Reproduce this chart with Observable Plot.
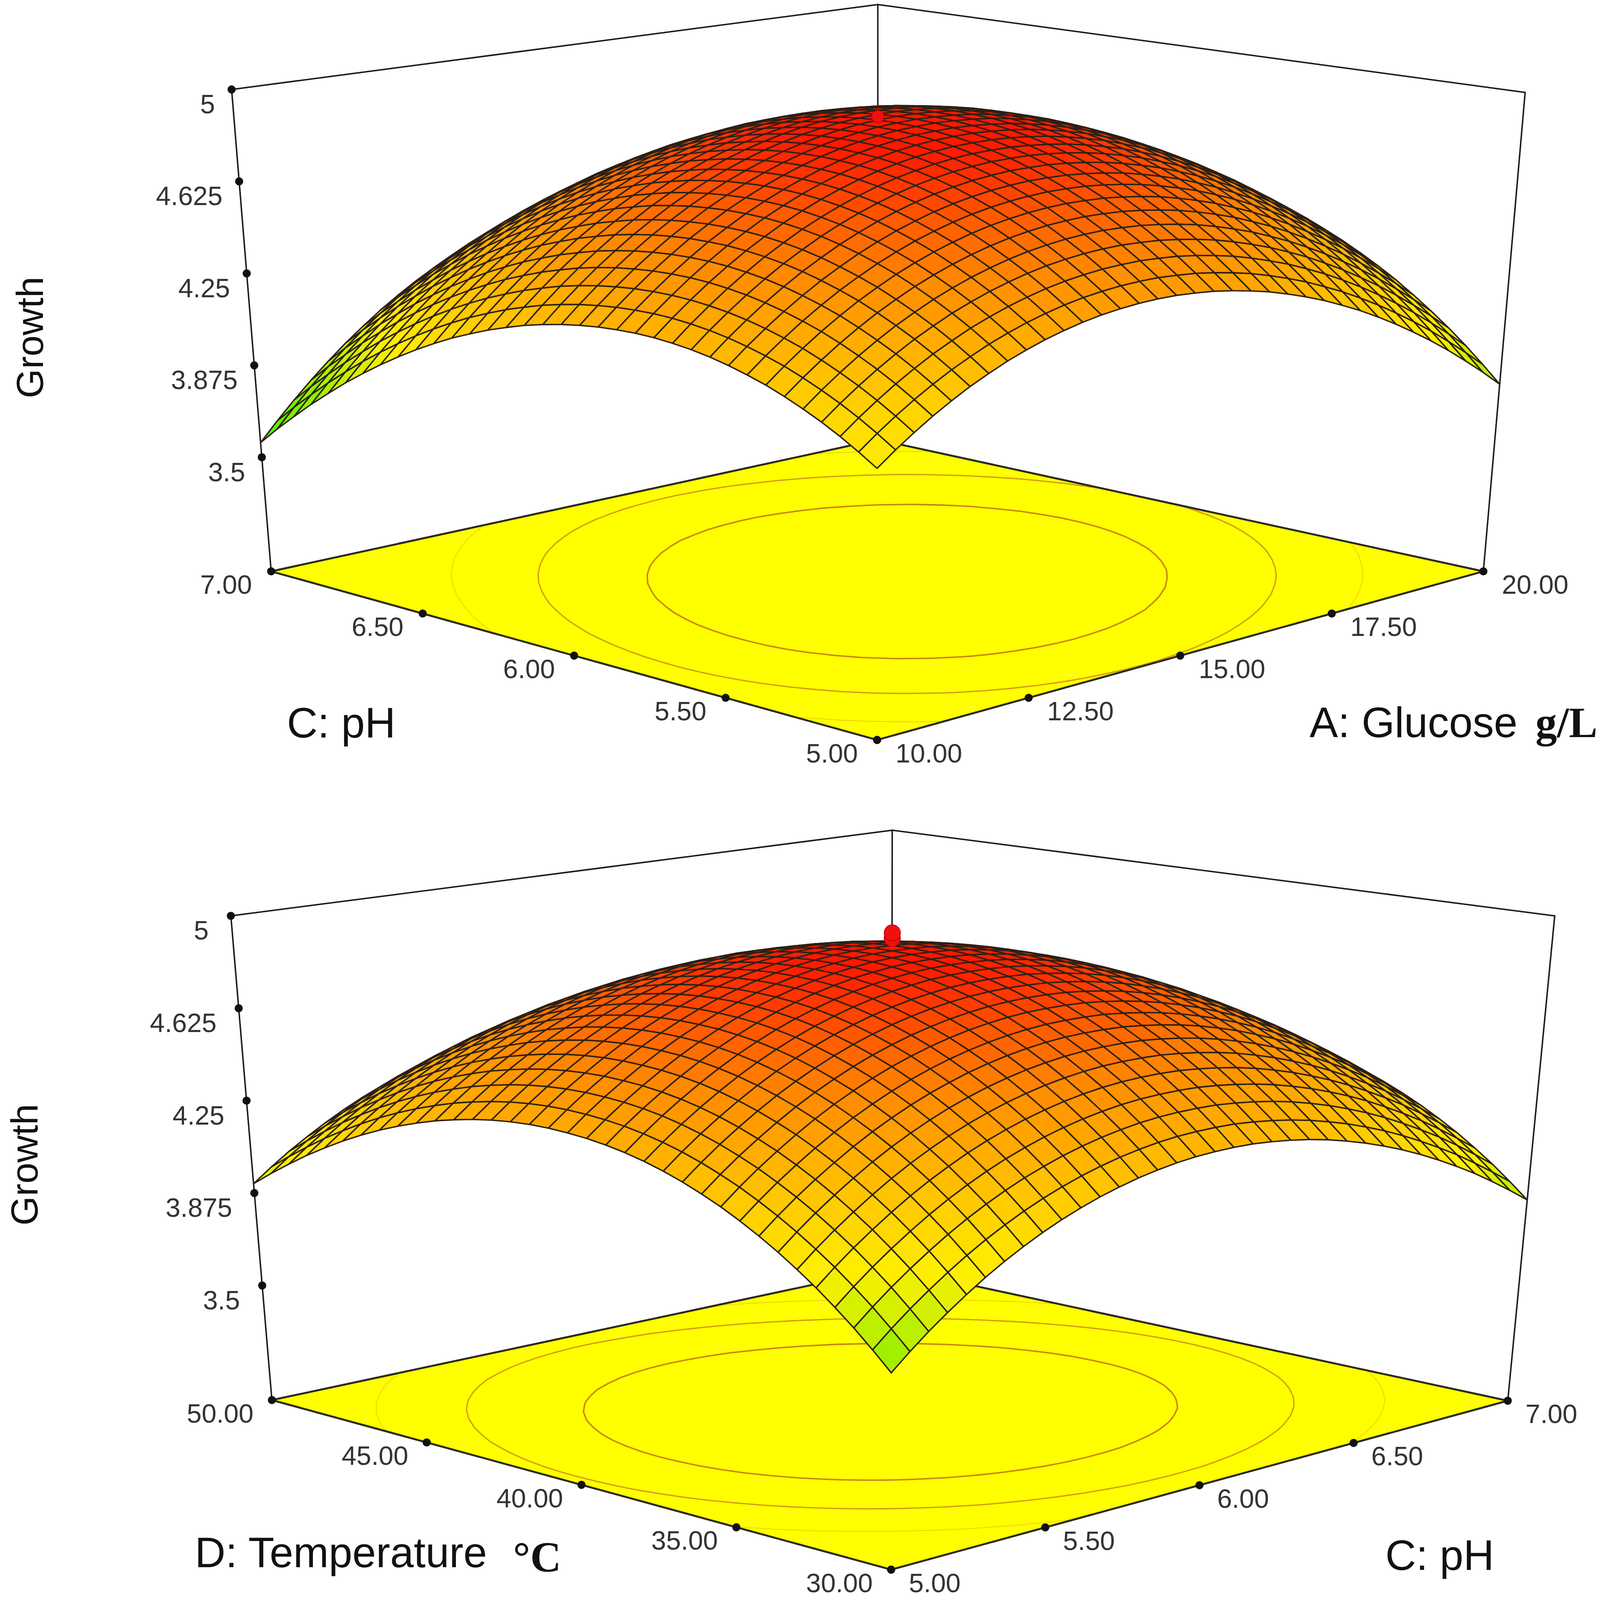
<!DOCTYPE html>
<html><head><meta charset="utf-8">
<style>html,body{margin:0;background:#fff}svg{display:block}</style>
<script src="https://cdn.jsdelivr.net/npm/d3@7"></script>
<script src="https://cdn.jsdelivr.net/npm/@observablehq/plot@0.6"></script>
</head><body><div id="chart"></div>
<script>
// Tick values
const growthTicks = [5, 4.625, 4.25, 3.875, 3.5];
const glucoseTicks = ["10.00", "12.50", "15.00", "17.50", "20.00"];
const phTicks = ["5.00", "5.50", "6.00", "6.50", "7.00"];
const tempTicks = ["30.00", "35.00", "40.00", "45.00", "50.00"];

// Growth read along the two front edges of each surface, one value per mesh line.
const glucoseEdge = [4.040,4.093,4.142,4.188,4.230,4.269,4.303,4.335,4.362,4.386,4.406,4.423,4.436,4.445,4.451,4.453,4.452,4.446,4.438,4.425,4.409,4.390,4.366,4.339,4.309,4.274,4.237,4.195,4.150,4.101,4.049,3.993,3.933,3.870,3.803];
const phEdgeTop = [4.040,4.085,4.127,4.165,4.199,4.230,4.258,4.281,4.301,4.318,4.331,4.340,4.346,4.348,4.346,4.341,4.332,4.320,4.304,4.285,4.261,4.235,4.204,4.171,4.133,4.092,4.047,3.999,3.947,3.892,3.832,3.770,3.703,3.634,3.560];
const phEdgeBottom = [3.759,3.821,3.879,3.933,3.984,4.032,4.076,4.116,4.153,4.186,4.215,4.241,4.263,4.282,4.297,4.309,4.317,4.321,4.322,4.320,4.313,4.303,4.290,4.273,4.252,4.228,4.200,4.169,4.134,4.095,4.053,4.008,3.958,3.905,3.849];
const tempEdge = [3.759,3.827,3.892,3.952,4.009,4.061,4.110,4.155,4.196,4.234,4.267,4.297,4.323,4.345,4.363,4.377,4.387,4.393,4.396,4.395,4.390,4.381,4.368,4.351,4.331,4.306,4.278,4.246,4.210,4.170,4.126,4.079,4.027,3.972,3.913];
const interactionTop = 0.75;
const interactionBottom = -0.25;
const contourLevelsTop = [4.22, 4.46, 4.69];
const contourLevelsBottom = [4.22, 4.44, 4.66];
const contourStyles = [["#e8d000", 2], ["#d09c10", 3.5], ["#c8860f", 4]];
const designTop = [[0.5, 0.5, 4.927]];
const designBottom = [[0.5, 0.5, 4.943], [0.5, 0.5, 4.965]];

// Projection of the plot box: corners [front, right, left, back] on the floor and at the top.
const floorTop = [[2372,2229],[4012,1721],[733,1721],[2374,1324]];
const roofTop = [[2372,629],[4125,278],[626,269],[2374,13]];
const floorBottom = [[2410,4729],[4078,4220],[735,4218],[2411,3820]];
const roofBottom = [[2411,3119],[4205,2759],[624,2759],[2413,2501]];

// The page is photographed 4328 tall, so the 4821-tall layout is fitted to that height by the y scale.
const plotHeight = 4328, layoutHeight = 4821;
const squeeze = plotHeight / layoutHeight;

const zBase = 3.035, zSpan = 1.965;
const level = z => (z - zBase) / zSpan;
const bilinear = (q, u, v, k) => (1-u)*(1-v)*q[0][k] + u*(1-v)*q[1][k] + (1-u)*v*q[2][k] + u*v*q[3][k];
const projector = (fl, rf) => (u, v, w) => ({
  x: (1-w)*bilinear(fl,u,v,0) + w*bilinear(rf,u,v,0),
  y: (1-w)*bilinear(fl,u,v,1) + w*bilinear(rf,u,v,1)
});

function panel(fl, rf, edgeU, edgeV, cross, design, levels, opt) {
  const P = projector(fl, rf);
  const n = edgeU.length, m = n - 1;
  const zAt = (i, j) => edgeU[i] + edgeV[j] - edgeU[0] + cross * (i/m) * (j/m);
  const marks = [];
  const poly = (pts, o) => Plot.line(pts, {x:"x", y:"y", ...o});

  const frame = [
    [P(0,1,1), P(1,1,1), P(1,0,1)],
    [P(1,1,0), P(1,1,1)],
    [P(0,1,0), P(0,1,1)],
    [P(1,0,0), P(1,0,1)]
  ].flatMap((seg, s) => seg.map(p => ({...p, s})));
  marks.push(poly(frame, {z:"s", stroke:"#1c1c1c", strokeWidth:4}));

  const floor = [P(0,0,0), P(1,0,0), P(1,1,0), P(0,1,0), P(0,0,0)];
  marks.push(poly(floor, {fill:"#ffff00", stroke:"#2b2b20", strokeWidth:5}));

  const flat = [];
  for (let j = 0; j < n; j++) for (let i = 0; i < n; i++) flat.push(zAt(i, j));
  const rings = d3.contours().size([n, n]).thresholds(levels)(flat);
  rings.forEach((c, l) => {
    const pts = [];
    c.coordinates.forEach((poly2, a) => poly2.forEach((ring, b) => ring.forEach(([gx, gy]) => {
      const u = Math.min(1, Math.max(0, (gx - .5) / m)), v = Math.min(1, Math.max(0, (gy - .5) / m));
      pts.push({...P(u, v, 0), r: a + "-" + b});
    })));
    marks.push(poly(pts, {z:"r", stroke:contourStyles[l][0], strokeWidth:contourStyles[l][1]}));
  });
  marks.push(poly(floor, {stroke:"#2b2b20", strokeWidth:5}));

  const cells = [];
  for (let s = 2*m - 2; s >= 0; s--) {
    for (let i = Math.min(m-1, s); i >= 0 && s - i <= m - 1; i--) {
      const j = s - i;
      const g = (zAt(i,j) + zAt(i+1,j) + zAt(i,j+1) + zAt(i+1,j+1)) / 4;
      const key = i + "_" + j;
      [[i,j],[i+1,j],[i+1,j+1],[i,j+1],[i,j]].forEach(([a,b]) =>
        cells.push({...P(a/m, b/m, level(zAt(a,b))), key, g}));
    }
  }
  marks.push(Plot.line(cells, {x:"x", y:"y", z:"key", fill:"g", stroke:"#2e2016", strokeWidth:3.8}));

  marks.push(Plot.dot(design.map(d => P(d[0], d[1], level(d[2]))), {x:"x", y:"y", r:opt.designR, fill:"#f01010", stroke:"#c00000", strokeWidth:2}));

  const tickText = {fontSize:72, fontFamily:"Liberation Sans", fill:"#333", lineAnchor:"middle"};
  const gt = growthTicks.map(t => ({...P(0,1,level(t)), t: String(t)}));
  const ut = opt.uTicks.map((t,i) => ({...P(i/4,0,0), t}));
  const vt = opt.vTicks.map((t,i) => ({...P(0,i/4,0), t}));
  [gt, ut, vt].forEach(d => marks.push(Plot.dot(d, {x:"x", y:"y", r:11, fill:"#111"})));
  marks.push(Plot.text(gt, {x:"x", y:"y", text:"t", textAnchor:"end", dx:opt.zdx, dy:46*squeeze, ...tickText}));
  marks.push(Plot.text(ut, {x:"x", y:"y", text:"t", dx:opt.udx, dy:42*squeeze, ...tickText}));
  marks.push(Plot.text(vt, {x:"x", y:"y", text:"t", dx:-opt.vdx, dy:42*squeeze, ...tickText}));

  const title = {fontSize:115, fontFamily:"Liberation Sans", fill:"#111", lineAnchor:"middle"};
  const mid = [P(0,1,level(4.25))];
  marks.push(Plot.text(mid, {x:"x", y:"y", text:() => "Growth", rotate:-90, dx:opt.growthDx, dy:opt.growthDy*squeeze, ...title, fontSize:102}));
  const vMid = [P(0,.5,0)], uMid = [P(.5,0,0)];
  opt.titles.forEach(t => marks.push(Plot.text(t.u ? uMid : vMid, {x:"x", y:"y", text:() => t.text, dx:t.dx, dy:t.dy*squeeze, textAnchor:"start",
    ...title, fontFamily:t.serif ? "Liberation Serif" : "Liberation Sans", fontWeight:t.serif ? "bold" : "normal", fontSize:t.size || 115})));
  return marks;
}

const marks = [
  ...panel(floorTop, roofTop, glucoseEdge, phEdgeTop, interactionTop, designTop, contourLevelsTop, {
    uTicks:glucoseTicks, vTicks:phTicks, zdx:-45, udx:140, vdx:122, designR:17, growthDx:-584, growthDy:193,
    titles:[
      {text:"C: pH", dx:-777, dy:206},
      {text:"A: Glucose", u:true, dx:350, dy:204},
      {text:"g/L", u:true, serif:true, size:116, dx:961, dy:204}
    ]}),
  ...panel(floorBottom, roofBottom, phEdgeBottom, tempEdge, interactionBottom, designBottom, contourLevelsBottom, {
    uTicks:phTicks, vTicks:tempTicks, zdx:-60, udx:118, vdx:140, designR:22, growthDx:-598, growthDy:193,
    titles:[
      {text:"D: Temperature", dx:-1046, dy:207},
      {text:"°C", serif:true, size:116, dx:-185, dy:220},
      {text:"C: pH", u:true, dx:503, dy:214}
    ]})
];

const chart = Plot.plot({
  width:4328, height:plotHeight, margin:0,
  style:{background:"#fff"},
  x:{domain:[0,4328], range:[0,4328], axis:null},
  y:{domain:[0,layoutHeight], range:[0,plotHeight], axis:null},
  color:{type:"linear", domain:[3.5,3.76,4.05,4.3,4.55,4.72,4.88], range:["#30f000","#88f000","#fff000","#ffc000","#ff8c00","#ff5a00","#ff1800"], clamp:true},
  marks
});
document.getElementById("chart").append(chart);
</script></body></html>
